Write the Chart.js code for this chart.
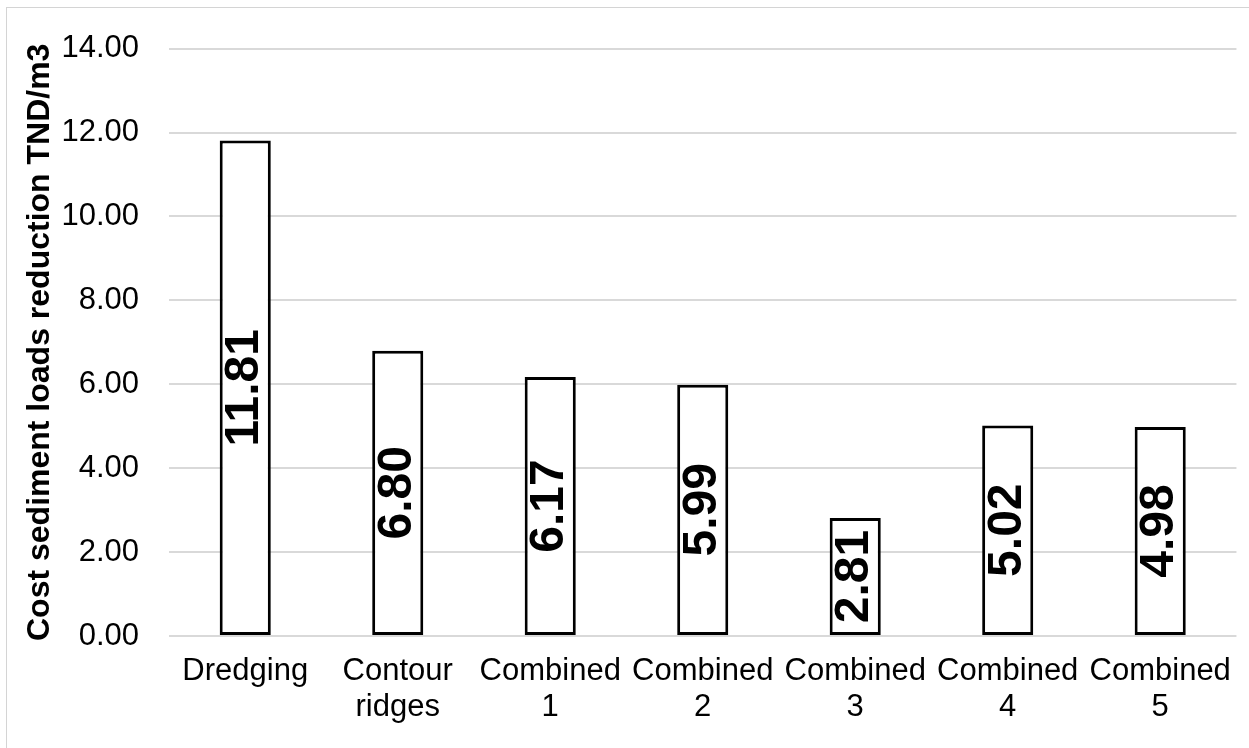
<!DOCTYPE html>
<html>
<head>
<meta charset="utf-8">
<title>Cost sediment loads reduction</title>
<script src="https://cdn.jsdelivr.net/npm/chart.js@4.4.1/dist/chart.umd.min.js"></script>
<style>
  html, body { margin: 0; padding: 0; background: #ffffff; overflow: hidden; }
  #wrap { position: relative; width: 1249px; height: 748px; }
  #frame {
    position: absolute; left: 6px; top: 7px; width: 1400px; height: 900px;
    border-left: 1px solid #d4d4d4; border-top: 1px solid #d4d4d4;
    box-sizing: border-box; pointer-events: none;
  }
  canvas { position: absolute; left: 0; top: 0; }
</style>
</head>
<body>
<div id="wrap">
  <div id="frame"></div>
  <canvas id="chart" width="1249" height="748"></canvas>
</div>
<script>
// Measures compared and their cost per cubic metre of sediment removed
const categories = [
  'Dredging',
  ['Contour', 'ridges'],
  ['Combined', '1'],
  ['Combined', '2'],
  ['Combined', '3'],
  ['Combined', '4'],
  ['Combined', '5']
];
const costValues = [11.81, 6.80, 6.17, 5.99, 2.81, 5.02, 4.98];
const yTicks = [0, 2, 4, 6, 8, 10, 12, 14];
const yTitle = 'Cost sediment loads reduction TND/m3';

const FONT = "'Liberation Sans', Arial, Helvetica, sans-serif";

// Writes each bar's value vertically, centred inside the bar
const barValueLabels = {
  id: 'barValueLabels',
  afterDatasetsDraw(chart) {
    const ctx = chart.ctx;
    const meta = chart.getDatasetMeta(0);
    const data = chart.data.datasets[0].data;
    ctx.save();
    ctx.font = 'bold 48px ' + FONT;
    ctx.fillStyle = '#000000';
    ctx.textAlign = 'center';
    ctx.textBaseline = 'middle';
    meta.data.forEach((bar, i) => {
      const p = bar.getProps(['x', 'y', 'base'], true);
      const cy = (p.y + p.base) / 2;
      ctx.save();
      ctx.translate(p.x, cy);
      ctx.rotate(-Math.PI / 2);
      ctx.fillText(data[i].toFixed(2), 0, 0);
      ctx.restore();
    });
    ctx.restore();
  }
};

new Chart(document.getElementById('chart'), {
  type: 'bar',
  data: {
    labels: categories,
    datasets: [{
      data: costValues,
      backgroundColor: '#ffffff',
      borderColor: '#000000',
      borderWidth: 3,
      borderSkipped: false,
      barPercentage: 0.335,
      categoryPercentage: 1.0
    }]
  },
  options: {
    responsive: false,
    animation: false,
    events: [],
    layout: { padding: { top: 48, right: 2, left: 0, bottom: 0 } },
    plugins: {
      legend: { display: false },
      tooltip: { enabled: false }
    },
    scales: {
      x: {
        grid: { display: false, drawTicks: false },
        border: { display: false },
        ticks: {
          color: '#000000',
          padding: 18,
          maxRotation: 0,
          autoSkip: false,
          font: { family: FONT, size: 31, lineHeight: 1.15 }
        },
        afterFit(scale) { scale.height = 112; }
      },
      y: {
        min: 0,
        max: 14,
        afterBuildTicks(scale) { scale.ticks = yTicks.map(v => ({ value: v })); },
        grid: { color: '#d9d9d9', lineWidth: 2, drawTicks: false },
        border: { display: false },
        ticks: {
          color: '#000000',
          padding: 30,
          font: { family: FONT, size: 31 },
          callback: v => Number(v).toFixed(2)
        },
        title: {
          display: true,
          text: yTitle,
          color: '#000000',
          padding: { top: 21, bottom: 0 },
          font: { family: FONT, size: 32, weight: 'bold' }
        },
        afterFit(scale) { scale.width = 169; }
      }
    }
  },
  plugins: [barValueLabels]
});
</script>
</body>
</html>
